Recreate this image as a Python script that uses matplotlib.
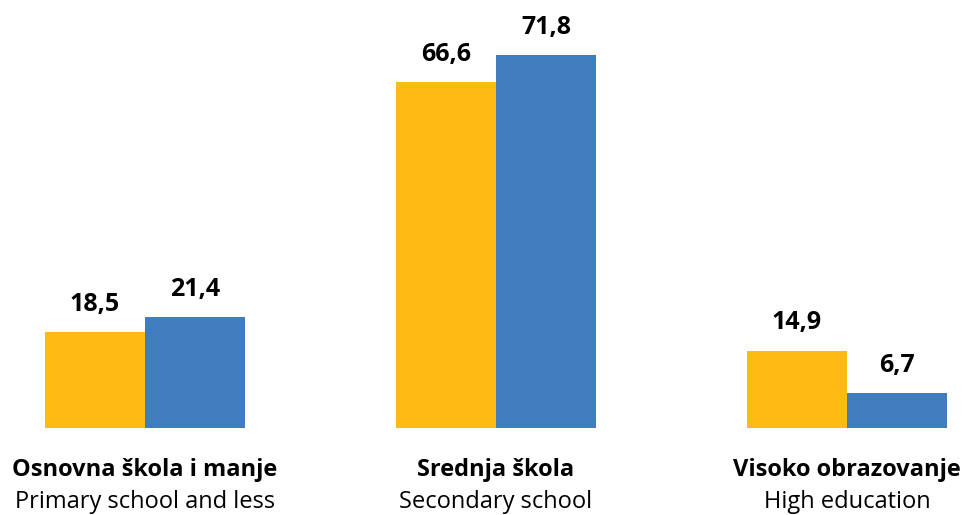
import matplotlib
matplotlib.use("Agg")
import matplotlib.pyplot as plt
import numpy as np

categories_sr = ["Osnovna škola i manje", "Srednja škola", "Visoko obrazovanje"]
categories_en = ["Primary school and less", "Secondary school", "High education"]
series_a = [18.5, 66.6, 14.9]
series_b = [21.4, 71.8, 6.7]
colors = ["#FDBB13", "#417CBE"]

plt.rcParams['font.family'] = ['Open Sans', 'DejaVu Sans']

fig = plt.figure(figsize=(9.66, 5.15), dpi=100)
ax = fig.add_axes([0, (515 - 428) / 515, 1, 428 / 515])
x = np.arange(len(categories_sr))
w = 100 / 351
ax.bar(x - w / 2, series_a, width=w, color=colors[0])
ax.bar(x + w / 2, series_b, width=w, color=colors[1])
ax.set_xlim(-145 / 351, (966 - 145) / 351)
ax.set_ylim(0, 428 / 5.195)
ax.axis('off')

def fmt(v):
    return f"{v:.1f}".replace('.', ',')

for xi, a, b in zip(x, series_a, series_b):
    for xx, v in ((xi - w / 2, a), (xi + w / 2, b)):
        ax.annotate(fmt(v), (xx, v), xytext=(0, 20), textcoords='offset points',
                    ha='center', va='center', fontsize=18, fontweight='bold', color='#000000')

for xi, s, e in zip(x, categories_sr, categories_en):
    ax.annotate(s, (xi, 0), xycoords=('data', 'axes fraction'), xytext=(0, -30),
                textcoords='offset points', ha='center', va='center', fontsize=17,
                fontweight='bold', color='#000000')
    ax.annotate(e, (xi, 0), xycoords=('data', 'axes fraction'), xytext=(0, -53),
                textcoords='offset points', ha='center', va='center', fontsize=17,
                color='#000000')

fig.savefig("out.png", dpi=100)
